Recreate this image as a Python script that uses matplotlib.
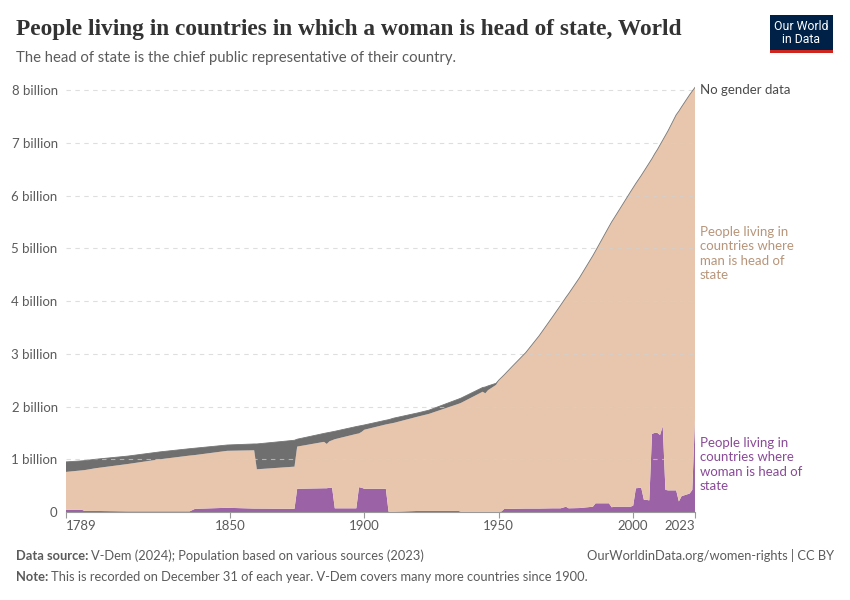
import matplotlib
matplotlib.use("Agg")
import matplotlib.pyplot as plt
import numpy as np
from matplotlib.patches import Rectangle

# ---- data (billions) ----
years = [1789, 1795, 1796, 1800, 1812, 1824, 1835, 1837, 1849, 1859, 1860, 1874, 1875,
         1885, 1886, 1887, 1888, 1889, 1897, 1898, 1899, 1900, 1908, 1909, 1911, 1920,
         1924, 1935, 1936, 1944, 1945, 1946, 1949, 1950, 1951, 1952, 1955, 1960, 1965,
         1970, 1973, 1975, 1976, 1980, 1985, 1986, 1991, 1992, 1993, 1999, 2000, 2001,
         2003, 2004, 2005, 2006, 2007, 2008, 2009, 2010, 2011, 2012, 2013, 2016, 2017,
         2018, 2021, 2022, 2023]

total_pop = [0.95, 0.97, 0.975, 1.00, 1.06, 1.14, 1.20, 1.21, 1.27, 1.29, 1.29, 1.36, 1.38,
             1.49, 1.50, 1.51, 1.52, 1.53, 1.62, 1.63, 1.64, 1.65, 1.74, 1.75, 1.78, 1.88,
             1.93, 2.14, 2.16, 2.36, 2.37, 2.39, 2.44, 2.50, 2.55, 2.60, 2.76, 3.02, 3.34,
             3.70, 3.92, 4.07, 4.14, 4.44, 4.86, 4.95, 5.41, 5.50, 5.58, 6.07, 6.15, 6.23,
             6.38, 6.46, 6.54, 6.62, 6.70, 6.79, 6.87, 6.96, 7.05, 7.14, 7.23, 7.53, 7.60,
             7.68, 7.91, 7.98, 8.05]

woman_head = [0.04, 0.04, 0.02, 0.02, 0.012, 0.012, 0.012, 0.06, 0.08, 0.065, 0.065, 0.06, 0.44,
              0.45, 0.45, 0.46, 0.46, 0.07, 0.07, 0.47, 0.46, 0.44, 0.44, 0.005, 0.005, 0.02,
              0.02, 0.02, 0.005, 0.005, 0.005, 0.005, 0.005, 0.005, 0.01, 0.057, 0.06, 0.065, 0.065,
              0.07, 0.07, 0.10, 0.07, 0.075, 0.10, 0.165, 0.165, 0.09, 0.10, 0.10, 0.12, 0.45,
              0.46, 0.23, 0.23, 0.22, 1.48, 1.50, 1.50, 1.46, 1.63, 0.42, 0.41, 0.41, 0.20,
              0.30, 0.35, 0.42, 1.78]

no_data = [0.19, 0.18, 0.18, 0.17, 0.15, 0.14, 0.13, 0.13, 0.11, 0.12, 0.48, 0.50, 0.14,
           0.16, 0.21, 0.17, 0.16, 0.15, 0.14, 0.14, 0.12, 0.09, 0.08, 0.08, 0.09, 0.07,
           0.07, 0.09, 0.09, 0.08, 0.12, 0.08, 0.03, 0.0, 0.0, 0.0, 0.0, 0.0, 0.0,
           0.0, 0.0, 0.0, 0.0, 0.0, 0.0, 0.0, 0.0, 0.0, 0.0, 0.0, 0.0, 0.0,
           0.0, 0.0, 0.0, 0.0, 0.0, 0.0, 0.0, 0.0, 0.0, 0.0, 0.0, 0.0, 0.0,
           0.0, 0.0, 0.0, 0.0]

xticks = [1789, 1850, 1900, 1950, 2000, 2023]
yticks = [0, 1, 2, 3, 4, 5, 6, 7, 8]
ytick_labels = ["0", "1 billion", "2 billion", "3 billion", "4 billion",
                "5 billion", "6 billion", "7 billion", "8 billion"]

title = "People living in countries in which a woman is head of state, World"
subtitle = "The head of state is the chief public representative of their country."

# ---- derived ----
yrs = np.array(years, dtype=float)
tot = np.array(total_pop) * 1e9
wom = np.array(woman_head) * 1e9
nod = np.array(no_data) * 1e9
man = tot - wom - nod

C_WOMAN = "#9c62a6"
C_MAN = "#e8c6ad"
C_NOD = "#6f6f6f"

W, H = 850, 600
fig = plt.figure(figsize=(8.5, 6), dpi=100)
plt.rcParams['font.family'] = ['Lato', 'DejaVu Sans']

ymax = 8.1e9
px_per_b = 52.75
ax_left, ax_right, ax_bottom = 66, 695, 512
ax_top = ax_bottom - px_per_b * ymax / 1e9
ax = fig.add_axes([ax_left / W, 1 - ax_bottom / H, (ax_right - ax_left) / W, (ax_bottom - ax_top) / H])

ax.stackplot(yrs, wom, man, nod, colors=[C_WOMAN, C_MAN, C_NOD], linewidth=0, zorder=2)
ax.plot(yrs, tot, color="#777777", lw=0.6, zorder=3)

ax.set_xlim(1789, 2023)
ax.set_ylim(0, ymax)

ax.set_yticks([v * 1e9 for v in yticks])
ax.set_yticklabels(ytick_labels)
ax.set_xticks(xticks)
ax.set_xticklabels([str(x) for x in xticks])
xl = ax.get_xticklabels()
xl[0].set_ha("left")
xl[-1].set_ha("right")
for s in ["top", "right", "left"]:
    ax.spines[s].set_visible(False)
ax.spines["bottom"].set_color("#999999")
ax.spines["bottom"].set_linewidth(0.8)
ax.spines["bottom"].set_zorder(4)
ax.tick_params(axis="y", length=0, pad=6, labelsize=9.5, labelcolor="#5b5b5b")
ax.tick_params(axis="x", length=4, color="#999999", width=0.8, pad=2, labelsize=9.5, labelcolor="#5b5b5b")
# gridlines drawn faintly on top of the areas (as in the reference)
for v in yticks[1:]:
    ax.axhline(v * 1e9, color="#d0d0d0", linestyle=(0, (4, 4)), linewidth=0.8, zorder=2.5, alpha=0.7)

def fy(px):
    return 1 - px / H

# right labels
fig.text(700 / W, fy(90), "No gender data", fontsize=9.5, color="#4a4a4a", va="center", ha="left")
fig.text(700 / W, fy(226), "People living in\ncountries where\nman is head of\nstate",
         fontsize=9.5, color="#b8957a", va="top", ha="left", linespacing=1.23)
fig.text(700 / W, fy(437), "People living in\ncountries where\nwoman is head of\nstate",
         fontsize=9.5, color="#8a4a98", va="top", ha="left", linespacing=1.23)

# title & subtitle
fig.text(16 / W, fy(29), title, fontsize=16.8, family=["Liberation Serif", "DejaVu Serif"],
         color="#333333", va="center", ha="left", weight="bold")
fig.text(16 / W, fy(58), subtitle, fontsize=10.7, color="#5b5b5b", va="center", ha="left")

# logo
logo = Rectangle((770 / W, fy(50)), 63 / W, 35 / H, transform=fig.transFigure,
                 facecolor="#002147", edgecolor="none")
fig.patches.append(logo)
stripe = Rectangle((770 / W, fy(53)), 63 / W, 3 / H, transform=fig.transFigure,
                   facecolor="#ce261e", edgecolor="none")
fig.patches.append(stripe)
fig.text(801.5 / W, fy(33), "Our World\nin Data", fontsize=8.8, color="white", ha="center",
         va="center", linespacing=1.0, family=["Roboto", "DejaVu Sans"])

# footer
fig.canvas.draw()
r = fig.canvas.get_renderer()
FS = 9.3

def label_pair(x, y, bold, rest):
    t1 = fig.text(x / W, fy(y), bold, fontsize=FS, color="#5b5b5b", weight="bold", va="center", ha="left")
    bb = t1.get_window_extent(renderer=r)
    fig.text(bb.x1 / W + 3 / W, fy(y), rest, fontsize=FS, color="#5b5b5b", va="center", ha="left")

label_pair(16, 556, "Data source:", "V-Dem (2024); Population based on various sources (2023)")
label_pair(16, 577, "Note:", "This is recorded on December 31 of each year. V-Dem covers many more countries since 1900.")
fig.text(834 / W, fy(556), "OurWorldinData.org/women-rights | CC BY", fontsize=FS, color="#5b5b5b",
         va="center", ha="right")

fig.savefig("out.png", dpi=100)
